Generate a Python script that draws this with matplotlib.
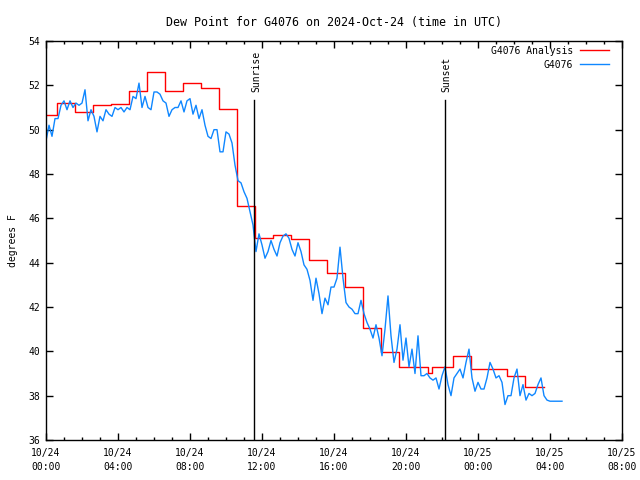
import numpy as np
import matplotlib
matplotlib.use('Agg')
import matplotlib.pyplot as plt
from matplotlib.ticker import MultipleLocator

# Analysis (hourly steps, hours after 10/24 00:00 UTC)
ana_h = [0.0, 0.6, 1.6, 2.6, 3.6, 4.6, 5.6, 6.6, 7.6, 8.6, 9.6, 10.6, 11.6,
         12.6, 13.6, 14.6, 15.6, 16.6, 17.6, 18.6, 19.6, 21.2, 21.45, 21.6,
         22.6, 23.6, 25.6, 26.6, 27.65]
ana_v = [50.66, 51.19, 50.78, 51.11, 51.17, 51.73, 52.62, 51.73, 52.09, 51.88,
         50.92, 46.56, 45.13, 45.23, 45.05, 44.12, 43.52, 42.89, 41.04, 39.96,
         39.31, 39.01, 39.31, 39.28, 39.79, 39.19, 38.89, 38.38, 38.38]

# Station obs, every 10 minutes
obs_v = [
    49.5, 50.2, 49.7, 50.5, 50.5, 51.1,
    51.3, 50.9, 51.3, 51.0, 51.2, 51.1,
    51.2, 51.8, 50.4, 50.9, 50.6, 49.9,
    50.6, 50.4, 50.9, 50.7, 50.6, 51.0,
    50.9, 51.0, 50.8, 51.0, 50.9, 51.5,
    51.4, 52.1, 51.0, 51.5, 51.0, 50.9,
    51.7, 51.7, 51.6, 51.3, 51.2, 50.6,
    50.9, 51.0, 51.0, 51.3, 50.8, 51.3,
    51.4, 50.7, 51.1, 50.5, 50.9, 50.2,
    49.7, 49.6, 50.0, 50.0, 49.0, 49.0,
    49.9, 49.8, 49.4, 48.4, 47.7, 47.6,
    47.2, 46.9, 46.3, 45.7, 44.5, 45.3,
    44.8, 44.2, 44.5, 45.0, 44.6, 44.3,
    44.9, 45.2, 45.3, 45.1, 44.6, 44.3,
    44.9, 44.5, 43.9, 43.7, 43.2, 42.3,
    43.3, 42.6, 41.7, 42.4, 42.1, 42.9,
    42.9, 43.3, 44.7, 43.3, 42.2, 42.0,
    41.9, 41.7, 41.7, 42.3, 41.7, 41.3,
    41.0, 40.6, 41.2, 40.6, 39.8, 41.0,
    42.5, 40.7, 39.5, 40.1, 41.2, 39.6,
    40.6, 39.3, 40.1, 39.0, 40.7, 38.9,
    38.9, 39.0, 38.8, 38.7, 38.8, 38.3,
    38.9, 39.3, 38.5, 38.0, 38.8, 39.0,
    39.2, 38.8, 39.5, 40.1, 38.8, 38.2,
    38.6, 38.3, 38.3, 38.8, 39.5, 39.2,
    38.8, 38.9, 38.6, 37.6, 38.0, 38.0,
    38.8, 39.2, 38.0, 38.5, 37.8, 38.1,
    38.0, 38.1, 38.5, 38.8, 38.0, 37.8,
    37.75, 37.75, 37.75, 37.75, 37.75,
]
obs_h = np.arange(len(obs_v)) / 6.0

sunrise_h = 11.56
sunset_h = 22.17

xtick_labels = ['10/24\n00:00', '10/24\n04:00', '10/24\n08:00', '10/24\n12:00',
                '10/24\n16:00', '10/24\n20:00', '10/25\n00:00', '10/25\n04:00',
                '10/25\n08:00']

plt.rcParams['font.family'] = 'DejaVu Sans Mono'
plt.rcParams['font.size'] = 7

fig = plt.figure(figsize=(6.4, 4.8), dpi=100)
ax = fig.add_axes([46/640, 40/480, 576/640, 399/480])

ax.plot(ana_h, ana_v, color='#ff0000', lw=1.0, drawstyle='steps-post',
        label='G4076 Analysis')
ax.plot(obs_h, obs_v, color='#0f87ff', lw=1.0, label='G4076')

ax.plot([sunrise_h, sunrise_h], [36, 51.34], color='black', lw=1.0)
ax.plot([sunset_h, sunset_h], [36, 51.34], color='black', lw=1.0)
ax.text(sunrise_h + 0.1, 51.7, 'Sunrise', rotation=90, ha='center', va='bottom')
ax.text(sunset_h + 0.1, 51.7, 'Sunset', rotation=90, ha='center', va='bottom')

ax.set_xlim(0, 32)
ax.set_ylim(36, 54)
ax.set_xticks(np.arange(0, 33, 4))
ax.set_xticklabels(xtick_labels, linespacing=1.5)
ax.xaxis.set_minor_locator(MultipleLocator(1))
ax.set_yticks(np.arange(36, 55, 2))
ax.tick_params(which='both', direction='in', top=True, right=True, width=1.0)
ax.tick_params(which='major', length=5, pad=4)
ax.tick_params(axis='x', which='major', pad=6)
ax.tick_params(which='minor', length=2.5)
for s in ax.spines.values():
    s.set_linewidth(1.0)

ax.set_ylabel('degrees F', labelpad=8)
ax.set_title('Dew Point for G4076 on 2024-Oct-24 (time in UTC)', pad=11)

leg = ax.legend(loc='upper right', frameon=False, markerfirst=False,
                handlelength=3.0, handletextpad=0.7, labelspacing=0.42,
                borderaxespad=0.3, fontsize=7,
                bbox_to_anchor=(1 - 6/576, 1 + 2/399))
for t in leg.get_texts():
    t.set_ha('right')

fig.savefig('out.png', dpi=100)
